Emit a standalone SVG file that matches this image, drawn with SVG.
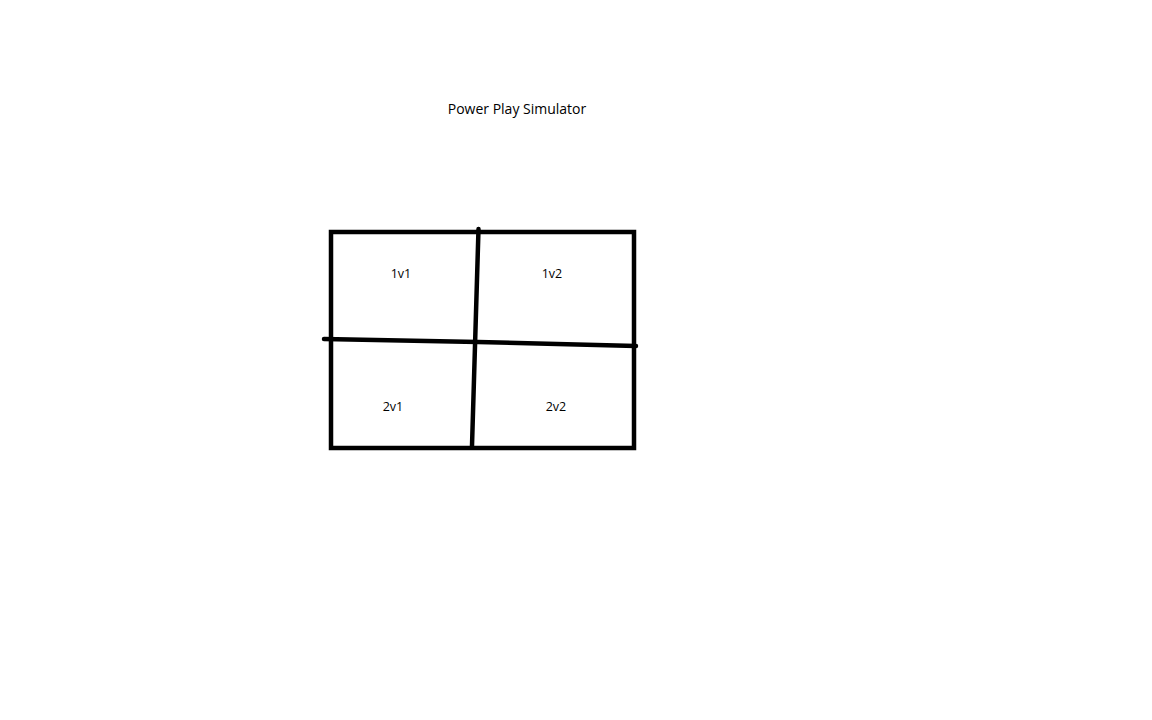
<svg xmlns="http://www.w3.org/2000/svg" width="1152" height="720" viewBox="0 0 1152 720">
<style>
.t{font-family:"Open Sans","Liberation Sans",sans-serif;font-size:12.5px;fill:#000;text-anchor:middle}
.h{font-size:14px}
.l{stroke:#000;stroke-width:4.5;fill:none;stroke-linecap:round}
</style>
<rect width="1152" height="720" fill="#fff"/>
<text class="t h" x="517" y="114">Power Play Simulator</text>
<g id="frame"><rect x="331" y="232" width="303" height="216" fill="none" stroke="#000" stroke-width="4.5"/></g>
<g id="connectors">
<path class="l" d="M478.5,229 L472,446"/>
<path class="l" d="M324,339 L478,342 L636,346"/>
</g>
<g id="n1v1"><text class="t" x="401" y="278">1v1</text></g>
<g id="n1v2"><text class="t" x="552" y="278">1v2</text></g>
<g id="n2v1"><text class="t" x="393" y="411">2v1</text></g>
<g id="n2v2"><text class="t" x="556" y="411">2v2</text></g>
</svg>
